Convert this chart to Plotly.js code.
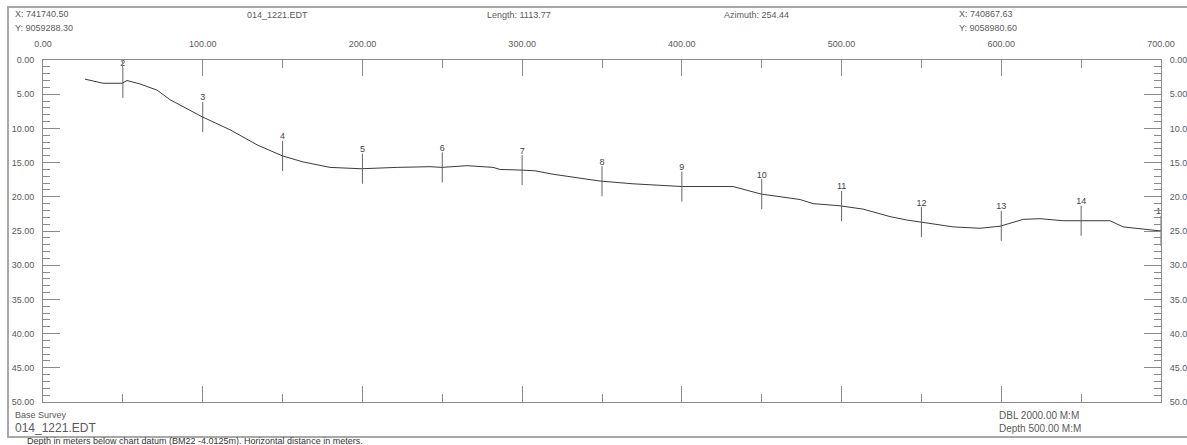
<!DOCTYPE html>
<html>
<head>
<meta charset="utf-8">
<script src="https://cdn.plot.ly/plotly-3.0.1.min.js"></script>
<style>html,body{margin:0;padding:0;background:#fff;}#chart{width:1187px;height:445px;}</style>
</head>
<body>
<div id="chart"></div>
<script>
// Profile: horizontal distance (m) and depth (m)
var distance = [26.3, 37.6, 49.5, 52.6, 60.7, 71.4, 79.5, 99.6, 117.1, 134.0, 149.7, 162.8, 179.7, 199.1, 221.7, 242.3, 249.8, 265.5, 281.8, 286.2, 299.9, 308.1, 319.3, 348.8, 369.4, 390.7, 400.1, 432.1, 440.8, 449.6, 474.0, 482.2, 498.4, 513.5, 530.4, 541.0, 549.8, 569.8, 586.7, 599.2, 613.7, 624.3, 638.7, 650.6, 668.1, 676.3, 693.2, 700];
var depth = [2.8, 3.4, 3.4, 3.0, 3.5, 4.4, 5.8, 8.3, 10.2, 12.4, 14.0, 14.9, 15.7, 15.9, 15.7, 15.6, 15.7, 15.45, 15.7, 16.0, 16.1, 16.2, 16.7, 17.7, 18.1, 18.4, 18.5, 18.5, 19.0, 19.6, 20.4, 21.0, 21.3, 21.8, 22.9, 23.4, 23.7, 24.4, 24.6, 24.3, 23.3, 23.2, 23.5, 23.5, 23.5, 24.4, 24.9, 25.0];
// Station marks
var stationX = [50, 100, 150, 200, 250, 300, 350, 400, 450, 500, 550, 600, 650, 700];
var stationLabels = ["2", "3", "4", "5", "6", "7", "8", "9", "10", "11", "12", "13", "14", "15"];

function interp(x) {
  for (var i = 0; i < distance.length - 1; i++) {
    if (x >= distance[i] && x <= distance[i + 1]) {
      var t = (x - distance[i]) / (distance[i + 1] - distance[i]);
      return depth[i] + t * (depth[i + 1] - depth[i]);
    }
  }
  return depth[depth.length - 1];
}
var stationDepth = stationX.map(interp);
var half = 2.2;
var labelDepth = stationDepth.map(function (d) { return d - half + 0.1; });

var FONT = 'Liberation Sans, Arial, sans-serif';
var TXT = '#5a5a5a';
var AX = '#8a8a8a';

var traces = [
  {x: distance, y: depth, type: 'scatter', mode: 'lines',
   line: {color: '#3a3a3a', width: 1}, hoverinfo: 'skip', cliponaxis: true},
  {x: stationX, y: stationDepth, type: 'scatter', mode: 'markers',
   marker: {size: 1, color: '#555'},
   error_y: {type: 'constant', value: half, visible: true, width: 0, thickness: 1, color: '#666'},
   hoverinfo: 'skip', cliponaxis: true},
  {x: stationX, y: labelDepth, type: 'scatter', mode: 'text', text: stationLabels,
   textposition: 'top center', textfont: {family: FONT, size: 9, color: '#444'},
   hoverinfo: 'skip', cliponaxis: true},
  {x: [0, 700], y: [0, 50], yaxis: 'y2', type: 'scatter', mode: 'markers',
   marker: {size: 0, opacity: 0}, hoverinfo: 'skip', showlegend: false}
];

var L = 43, R = 1161, T = 60, B = 402;
function px(x) { return (x - L) / (R - L); }
function py(y) { return (B - y) / (B - T); }
function ann(text, x, y, size, color) {
  return {text: text, xref: 'paper', yref: 'paper', x: px(x), y: py(y),
    xanchor: 'left', yanchor: 'middle', showarrow: false,
    font: {family: FONT, size: size || 9, color: color || TXT}};
}

var yaxisCommon = {
  range: [50, 0], autorange: false, dtick: 5, tickformat: '.2f',
  ticks: 'inside', ticklen: 17, tickwidth: 1, tickcolor: AX,
  minor: {dtick: 1, ticklen: 7, tickcolor: AX, ticks: 'inside'},
  showgrid: false, zeroline: false, showline: true, linecolor: AX, linewidth: 1,
  tickfont: {family: FONT, size: 9, color: TXT}, ticklabelstandoff: 6
};

var layout = {
  width: 1187, height: 445,
  margin: {l: L, r: 1187 - R, t: T, b: 445 - B, pad: 0},
  paper_bgcolor: '#fff', plot_bgcolor: '#fff',
  showlegend: false,
  xaxis: {
    range: [0, 700], autorange: false, side: 'top', dtick: 100, tickformat: '.2f',
    ticks: 'inside', ticklen: 16, tickwidth: 1, tickcolor: AX,
    minor: {dtick: 50, ticklen: 8, tickcolor: AX, ticks: 'inside'},
    mirror: 'ticks', showline: true, linecolor: AX, linewidth: 1,
    showgrid: false, zeroline: false,
    tickfont: {family: FONT, size: 9, color: TXT}, ticklabelstandoff: 8
  },
  yaxis: Object.assign({}, yaxisCommon, {side: 'left'}),
  yaxis2: Object.assign({}, yaxisCommon, {side: 'right', overlaying: 'y', anchor: 'x'}),
  shapes: [
    {type: 'rect', xref: 'paper', yref: 'paper', x0: px(8), x1: px(1200), y0: py(437), y1: py(7),
     line: {color: '#a8a8a8', width: 2}, fillcolor: 'rgba(0,0,0,0)', layer: 'below'}
  ],
  annotations: [
    ann('X: 741740.50', 13, 14),
    ann('Y: 9059288.30', 13, 28),
    ann('014_1221.EDT', 245, 15),
    ann('Length: 1113.77', 485, 15),
    ann('Azimuth: 254.44', 722, 15),
    ann('X: 740867.63', 957, 14),
    ann('Y: 9058980.60', 957, 28),
    ann('Base Survey', 13, 415, 9),
    ann('014_1221.EDT', 13, 428, 12),
    ann('DBL 2000.00 M:M', 997, 415, 10),
    ann('Depth 500.00 M:M', 997, 428, 10),
    ann('Depth in meters below chart datum (BM22 -4.0125m). Horizontal distance in meters.', 25, 441, 9, '#333')
  ]
};

Plotly.newPlot('chart', traces, layout, {staticPlot: true, displayModeBar: false});
</script>
</body>
</html>
